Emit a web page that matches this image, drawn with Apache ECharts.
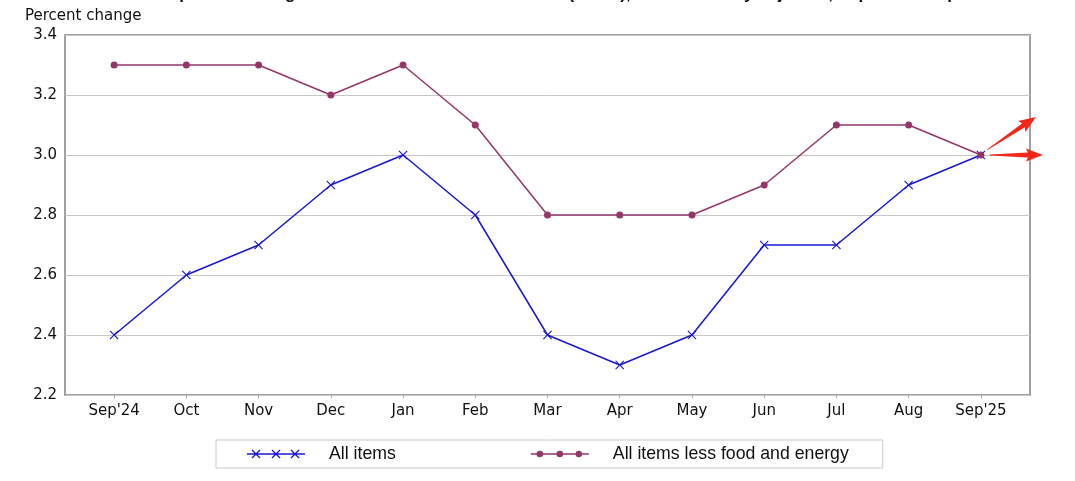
<!DOCTYPE html>
<html><head><meta charset="utf-8">
<script src="https://cdn.jsdelivr.net/npm/echarts@6/dist/echarts.min.js"></script>
<style>html,body{margin:0;padding:0;background:#fff}#c{width:1075px;height:481px}</style>
</head><body><div id="c"></div>
<script>
const titleText = "Chart 1. 12-month percent change in CPI for All Urban Consumers (CPI-U), not seasonally adjusted, Sep 2024 - Sep 2025";
const yAxisTitle = "Percent change";
const categories = ["Sep'24","Oct","Nov","Dec","Jan","Feb","Mar","Apr","May","Jun","Jul","Aug","Sep'25"];
const allItems = [2.4,2.6,2.7,2.9,3.0,2.8,2.4,2.3,2.4,2.7,2.7,2.9,3.0];
const coreItems = [3.3,3.3,3.3,3.2,3.3,3.1,2.8,2.8,2.8,2.9,3.1,3.1,3.0];
const seriesNames = ["All items", "All items less food and energy"];

const BLUE = '#1818d0', PURPLE = '#94366a', RED = '#f5261a';

function xPath(cx, cy, h, d) {
  const p = [[cx-h,cy-h+d],[cx-h+d,cy-h],[cx,cy-d],[cx+h-d,cy-h],[cx+h,cy-h+d],[cx+d,cy],
             [cx+h,cy+h-d],[cx+h-d,cy+h],[cx,cy+d],[cx-h+d,cy+h],[cx-h,cy+h-d],[cx-d,cy]];
  return 'M' + p.map(q => q[0].toFixed(2) + ' ' + q[1].toFixed(2)).join(' L') + ' Z';
}
function circlePath(cx, cy, r) {
  return `M${cx-r} ${cy} A${r} ${r} 0 1 1 ${cx+r} ${cy} A${r} ${r} 0 1 1 ${cx-r} ${cy} Z`;
}
function seg(x0, x1, cy, t) {
  return `M${x0} ${cy-t/2} L${x1} ${cy-t/2} L${x1} ${cy+t/2} L${x0} ${cy+t/2} Z `;
}
const W = 58, H = 12, CY = H / 2, CENTERS = [9, 29, 48];
const frame = `M0 0 M${W} ${H} `;
const blueIcon = 'path://' + frame + seg(0, W, CY, 1.5) + CENTERS.map(c => xPath(c, CY, 4.5, 0.9)).join(' ');
const purpleIcon = 'path://' + frame +
  seg(0, CENTERS[0] - 3, CY, 1.5) + seg(CENTERS[0] + 3, CENTERS[1] - 3, CY, 1.5) +
  seg(CENTERS[1] + 3, CENTERS[2] - 3, CY, 1.5) + seg(CENTERS[2] + 3, W, CY, 1.5) +
  CENTERS.map(c => circlePath(c, CY, 3.3)).join(' ');
const markerX = 'path://' + xPath(5, 5, 5, 0.9);

const toPts = arr => arr.map((v, i) => [i, v]);
const idx = categories.map((_, i) => i);

const chart = echarts.init(document.getElementById('c'));
chart.setOption({
  animation: false,
  backgroundColor: '#fff',
  grid: { left: 65, top: 35, right: 45, bottom: 86, show: true, borderColor: '#a0a0a0', borderWidth: 2, backgroundColor: 'transparent' },
  xAxis: {
    type: 'value', min: -0.68, max: 12.68,
    axisLine: { show: false },
    splitLine: { show: false },
    axisTick: { show: true, customValues: idx, length: 3, lineStyle: { color: '#a0a0a0' } },
    axisLabel: { customValues: idx, formatter: v => categories[Math.round(v)], color: '#111',
      fontFamily: 'DejaVu Sans', fontSize: 15, margin: 9 }
  },
  yAxis: {
    type: 'value', min: 2.2, max: 3.4, interval: 0.2,
    axisLine: { show: false }, axisTick: { show: false },
    splitLine: { lineStyle: { color: '#c8c8c8', width: 1 } },
    axisLabel: { formatter: v => v.toFixed(1), color: '#111', fontFamily: 'DejaVu Sans', fontSize: 15, margin: 8 }
  },
  legend: {
    left: 216, top: 440, orient: 'horizontal',
    borderColor: '#c8c8c8', borderWidth: 1, padding: [5, 34, 5, 31],
    itemWidth: W, itemHeight: H, itemGap: 135,
    textStyle: { fontFamily: 'Liberation Sans', fontSize: 17.7, color: '#111', padding: [0, 0, 0, 19] },
    data: [{ name: seriesNames[0], icon: blueIcon }, { name: seriesNames[1], icon: purpleIcon }]
  },
  series: [
    { name: seriesNames[0], type: 'line', data: toPts(allItems), color: BLUE,
      symbol: markerX, symbolSize: 9, showAllSymbol: true, clip: false,
      lineStyle: { color: BLUE, width: 1.5 }, itemStyle: { color: BLUE } },
    { name: seriesNames[1], type: 'line', data: toPts(coreItems), color: PURPLE,
      symbol: 'circle', symbolSize: 7, clip: false,
      lineStyle: { color: PURPLE, width: 1.5 }, itemStyle: { color: PURPLE } }
  ]
});

// annotation arrows pointing right from the last observation
function arrowPoly(x0, y0, x1, y1) {
  const dx = x1 - x0, dy = y1 - y0, L = Math.hypot(dx, dy), ux = dx / L, uy = dy / L, nx = -uy, ny = ux;
  const local = [[0,-0.4],[L-15,-2.4],[L-17,-6.5],[L,0],[L-17,6.5],[L-15,2.4],[0,0.4]];
  return local.map(([a, b]) => [x0 + ux*a + nx*b, y0 + uy*a + ny*b]);
}
const p = chart.convertToPixel({ gridIndex: 0 }, [allItems.length - 1, allItems[allItems.length - 1]]);
chart.setOption({
  graphic: [
    { type: 'text', left: 30, top: -14, style: { text: titleText, font: 'bold 17px "Liberation Sans"', fill: '#111' } },
    { type: 'text', left: 25, top: 9, style: { text: yAxisTitle, font: '15px "DejaVu Sans"', fill: '#111' } },
    { type: 'polygon', z: 100, shape: { points: arrowPoly(p[0] + 6, p[1] - 5, p[0] + 55, p[1] - 38) }, style: { fill: RED } },
    { type: 'polygon', z: 100, shape: { points: arrowPoly(p[0] + 9, p[1], p[0] + 62, p[1]) }, style: { fill: RED } }
  ]
});
</script></body></html>
